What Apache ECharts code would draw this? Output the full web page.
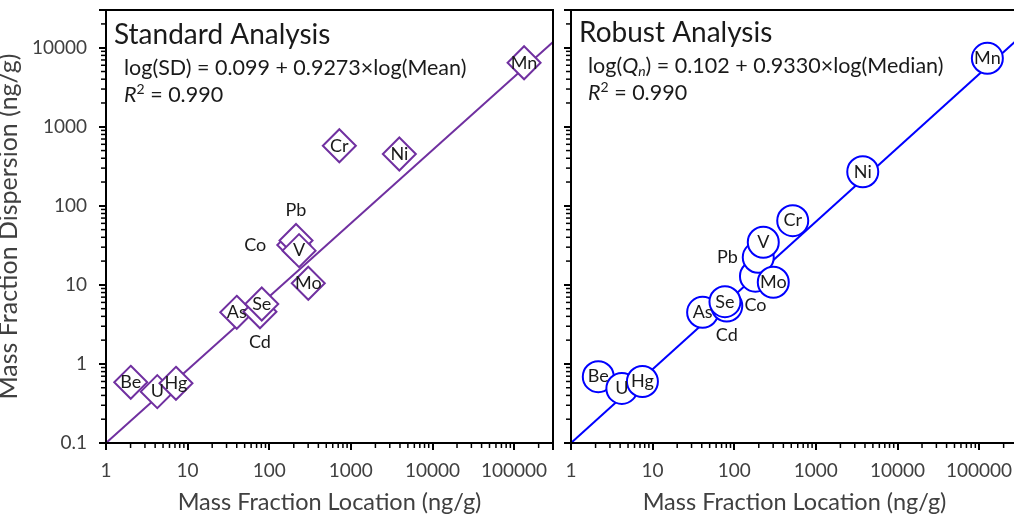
<!DOCTYPE html>
<html>
<head>
<meta charset="utf-8">
<title>Mass fraction dispersion vs location</title>
<script src="https://cdn.jsdelivr.net/npm/echarts@6/dist/echarts.min.js"></script>
<style>
  html, body { margin: 0; padding: 0; background: #fff; }
  #wrap { position: relative; width: 1014px; height: 516px; overflow: hidden; background: #fff; }
  #left { position: absolute; left: 0; top: 0; width: 560px; height: 516px; }
  #right { position: absolute; left: 560px; top: 0; width: 454px; height: 516px; }
</style>
</head>
<body>
<div id="wrap">
  <div id="left"></div>
  <div id="right"></div>
</div>
<script>
// Elements, in drawing order (later ones sit on top)
const elements = ['Be', 'U', 'Hg', 'As', 'Cd', 'Se', 'Co', 'Pb', 'V', 'Mo', 'Cr', 'Ni', 'Mn'];

// Standard analysis: mean vs standard deviation (ng/g)
const stdMean = [2.01, 4.25, 7.2, 40, 77, 81, 200, 213, 232, 301, 723, 3930, 132700];
const stdSD   = [0.586, 0.446, 0.569, 4.5, 4.57, 5.73, 31.9, 36.4, 27.1, 10.5, 576, 452, 6460];

// Robust analysis: median vs Qn (ng/g)
const robMedian = [2.16, 4.2, 7.5, 41, 81, 77, 182, 197, 227, 301, 521, 3757, 126400];
const robQn     = [0.69, 0.49, 0.60, 4.5, 5.41, 6.13, 12.9, 22.3, 34.6, 10.8, 64.9, 270, 7345];

// Where a label sits outside its marker
const stdLabelPos = { Pb: 'top', Co: 'left', Cd: 'bottom' };
const robLabelPos = { Pb: 'left', Co: 'bottom', Cd: 'bottom' };

// Fitted lines, end points across the axis range
const stdFitX = [1, 300000];
const stdFitY = [0.1, 11800];
const robFitX = [1, 300000];
const robFitY = [0.1, 12900];

// Axis ranges and minor-tick layout
const xRange = [1, 300000];
const yRange = [0.1, 30000];
const minorSteps = [2, 3, 4, 5, 6, 7, 8, 9];
const xDecades = [1, 10, 100, 1000, 10000, 100000];
const yDecades = [0.1, 1, 10, 100, 1000, 10000];

const FONT = 'Lato';
const PURPLE = '#7030A0';
const BLUE = '#0000FF';
const TEXT = '#404040';
const INK = '#1a1a1a';
const TICK = '#000';

function minorValues(decades, max) {
  const out = [];
  decades.forEach(d => minorSteps.forEach(s => {
    const v = +(d * s).toPrecision(6);
    if (v < max) out.push(v);
  }));
  return out;
}
const xMinor = minorValues(xDecades, xRange[1]);
const yMinor = minorValues(yDecades, yRange[1]);

function tickLabel(v) {
  const l = Math.log10(v);
  if (Math.abs(l - Math.round(l)) > 1e-6) return '';
  return v >= 1 ? String(Math.round(v)) : String(+v.toPrecision(3));
}
function noLabel() { return ''; }

function pointsFor(xs, ys, posMap, coDistance) {
  return elements.map((name, i) => {
    const item = { name: name, value: [xs[i], ys[i]] };
    if (posMap[name]) {
      item.label = { position: posMap[name], distance: name === 'Co' ? coDistance : 4 };
    }
    return item;
  });
}

const eqRich = {
  i: { fontFamily: FONT, fontSize: 21.5, fontStyle: 'italic', color: INK, verticalAlign: 'middle' },
  sub: { fontFamily: FONT, fontSize: 14, fontStyle: 'italic', color: INK, verticalAlign: 'bottom', lineHeight: 14 },
  sup: { fontFamily: FONT, fontSize: 14, color: INK, verticalAlign: 'top', lineHeight: 14 }
};

function textEl(x, y, text, size, rich) {
  return {
    type: 'text', x: x, y: y, z: 10,
    style: {
      text: text, fontFamily: FONT, fontSize: size, fill: INK,
      verticalAlign: 'middle', lineHeight: 25,
      rich: rich
    }
  };
}

// One panel: a log-log grid with the points, the fitted line and the captions
function buildPanel(dom, cfg) {
  const chart = echarts.init(dom, null, { renderer: 'canvas' });
  chart.setOption({
    animation: false,
    grid: [{ left: cfg.gridLeft, top: 10, width: 447, height: 433, show: true, borderColor: '#000', borderWidth: 2, outerBoundsMode: 'none' }],
    xAxis: [{
      type: 'log', gridIndex: 0, min: xRange[0], max: xRange[1],
      name: 'Mass Fraction Location (ng/g)', nameLocation: 'middle', nameGap: 47,
      nameTextStyle: { fontFamily: FONT, fontSize: 23.5, color: TEXT },
      axisLine: { show: true, lineStyle: { color: '#000', width: 2 } },
      axisTick: { show: true, length: 7, lineStyle: { color: TICK, width: 2 } },
      axisLabel: { formatter: tickLabel, fontFamily: FONT, fontSize: 19, color: TEXT, margin: 18 },
      splitLine: { show: false }
    }],
    yAxis: [{
      type: 'log', gridIndex: 0, min: yRange[0], max: yRange[1],
      name: cfg.yName, nameLocation: 'middle', nameGap: 64,
      nameTextStyle: { fontFamily: FONT, fontSize: 25, color: TEXT },
      axisLine: { show: true, lineStyle: { color: '#000', width: 2 } },
      axisTick: { show: true, length: 7, lineStyle: { color: TICK, width: 2 } },
      axisLabel: { formatter: cfg.yLabels ? tickLabel : noLabel, fontFamily: FONT, fontSize: 19, color: TEXT, margin: 19 },
      splitLine: { show: false }
    }],
    series: [
      {
        type: 'scatter',
        data: pointsFor(cfg.xs, cfg.ys, cfg.labelPos, cfg.coDistance),
        symbol: cfg.symbol, symbolSize: cfg.size,
        itemStyle: { color: '#fff', borderColor: cfg.color, borderWidth: 2, opacity: 1 },
        label: { show: true, position: 'inside', formatter: p => p.name, fontFamily: FONT, fontSize: 18, color: INK }
      }
    ],
    graphic: cfg.texts
  });

  const extra = [];

  // Fitted line, its end points mapped through the panel's log scales
  const a = chart.convertToPixel({ gridIndex: 0 }, [cfg.fitX[0], cfg.fitY[0]]);
  const b = chart.convertToPixel({ gridIndex: 0 }, [cfg.fitX[1], cfg.fitY[1]]);
  if (a && b) {
    extra.push({ type: 'line', z: -1, shape: { x1: a[0], y1: a[1], x2: b[0], y2: b[1] },
      style: { stroke: cfg.color, lineWidth: 2 } });
  }

  // Minor ticks at 2..9 of each decade
  const MINOR_LEN = 5;
  xMinor.forEach(v => {
    const p = chart.convertToPixel({ gridIndex: 0 }, [v, yRange[0]]);
    if (p) extra.push({ type: 'line', shape: { x1: p[0], y1: p[1], x2: p[0], y2: p[1] + MINOR_LEN }, style: { stroke: TICK, lineWidth: 1.5 } });
  });
  yMinor.forEach(v => {
    const p = chart.convertToPixel({ gridIndex: 0 }, [xRange[0], v]);
    if (p) extra.push({ type: 'line', shape: { x1: p[0], y1: p[1], x2: p[0] - MINOR_LEN, y2: p[1] }, style: { stroke: TICK, lineWidth: 1.5 } });
  });
  chart.setOption({ graphic: cfg.texts.concat(extra) });
  return chart;
}

buildPanel(document.getElementById('left'), {
  gridLeft: 106, yName: 'Mass Fraction Dispersion (ng/g)', yLabels: true,
  xs: stdMean, ys: stdSD, labelPos: stdLabelPos, coDistance: 10,
  fitX: stdFitX, fitY: stdFitY, color: PURPLE, symbol: 'diamond', size: 33,
  texts: [
    textEl(114, 35, 'Standard Analysis', 28),
    textEl(124, 68, 'log(SD) = 0.099 + 0.9273×log(Mean)', 21.5, eqRich),
    textEl(124, 95, '{i|R}{sup|2} = 0.990', 21.5, eqRich)
  ]
});

buildPanel(document.getElementById('right'), {
  gridLeft: 11, yName: '', yLabels: false,
  xs: robMedian, ys: robQn, labelPos: robLabelPos, coDistance: 4,
  fitX: robFitX, fitY: robFitY, color: BLUE, symbol: 'circle', size: 31,
  texts: [
    textEl(19, 33, 'Robust Analysis', 28),
    textEl(28, 66, 'log({i|Q}{sub|n}) = 0.102 + 0.9330×log(Median)', 21.5, eqRich),
    textEl(28, 93, '{i|R}{sup|2} = 0.990', 21.5, eqRich)
  ]
});
</script>
</body>
</html>
